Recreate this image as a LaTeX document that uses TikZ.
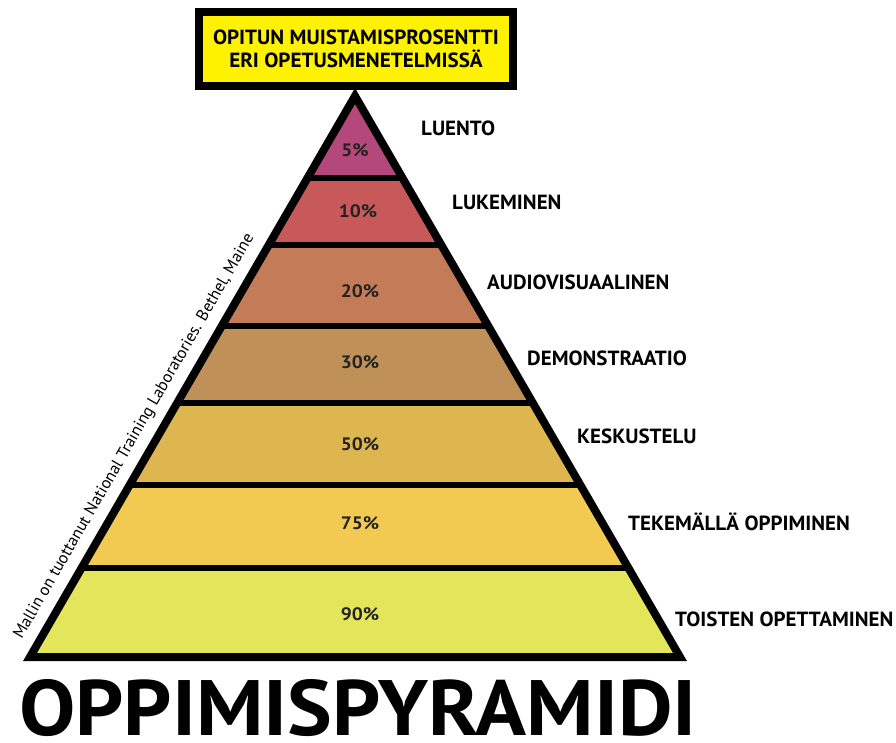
\documentclass[tikz,border=0pt]{standalone}
\usepackage{fontspec}
\setmainfont{PT Sans}
\newfontfamily\labfont[FakeStretch=1.025]{PT Sans}
\newfontfamily\bigfont[FakeStretch=1.074]{PT Sans}
\newfontfamily\pctfont[FakeStretch=1.08]{PT Sans}
\newfontfamily\boxfont[FakeStretch=1.03]{PT Sans}
\definecolor{c5}{HTML}{B4487B}
\definecolor{c10}{HTML}{C8595B}
\definecolor{c20}{HTML}{C47B58}
\definecolor{c30}{HTML}{BF9158}
\definecolor{c50}{HTML}{DDB650}
\definecolor{c75}{HTML}{F2CA52}
\definecolor{c90}{HTML}{E3E65A}
\definecolor{boxyellow}{HTML}{FFF200}
\definecolor{pctgray}{HTML}{222222}
\begin{document}
\begin{tikzpicture}[x=1pt,y=-1pt,
  pct/.style={font=\pctfont\fontsize{18}{18}\selectfont\bfseries, text=pctgray, inner sep=0},
  lbl/.style={font=\labfont\fontsize{20.5}{20.5}\selectfont\bfseries, anchor=west, inner sep=0},
  sep/.style={line width=6.5pt}]
\useasboundingbox (0,0) rectangle (896,742);
\coordinate (apex) at (355,96);
\coordinate (bl) at (30,657);
\coordinate (br) at (680,657);
\begin{scope}
  \clip (apex) -- (bl) -- (br) -- cycle;
  \fill[c5]  (0,0)   rectangle (896,178);
  \fill[c10] (0,178) rectangle (896,245);
  \fill[c20] (0,245) rectangle (896,326);
  \fill[c30] (0,326) rectangle (896,403);
  \fill[c50] (0,403) rectangle (896,485);
  \fill[c75] (0,485) rectangle (896,568);
  \fill[c90] (0,568) rectangle (896,660);
  \foreach \y in {178,245,326,403,485,568} \draw[sep] (0,\y) -- (896,\y);
\end{scope}
\draw[line width=8pt, line join=miter] (apex) -- (bl) -- (br) -- cycle;

\node[draw, line width=8pt, fill=boxyellow, minimum width=314pt, minimum height=74pt,
  align=center, font=\boxfont\fontsize{20.5}{23.5}\selectfont\bfseries, inner sep=0] (title) at (356,49)
  {OPITUN MUISTAMISPROSENTTI\\ERI OPETUSMENETELMISSÄ};

\node[pct] (p5)  at (355,150) {5\%};
\node[pct] (p10) at (358,211) {10\%};
\node[pct] (p20) at (360,291) {20\%};
\node[pct] (p30) at (360,362) {30\%};
\node[pct] (p50) at (360,444) {50\%};
\node[pct] (p75) at (360,523) {75\%};
\node[pct] (p90) at (360,614) {90\%};

\node[lbl] (l1) at (421,128) {LUENTO};
\node[lbl] (l2) at (452,202) {LUKEMINEN};
\node[lbl] (l3) at (487,282) {AUDIOVISUAALINEN};
\node[lbl] (l4) at (527,358) {DEMONSTRAATIO};
\node[lbl] (l5) at (577,436) {KESKUSTELU};
\node[lbl] (l6) at (628,522) {TEKEMÄLLÄ OPPIMINEN};
\node[lbl] (l7) at (675,619) {TOISTEN OPETTAMINEN};

\node[rotate=60, anchor=south, inner sep=1pt, font=\fontsize{16.6}{16.6}\selectfont] (src) at (142,441)
  {Mallin on tuottanut National Training Laboratories. Bethel, Maine};

\node[anchor=base west, inner sep=0, font=\bigfont\fontsize{78.5}{78.5}\selectfont\bfseries] (big) at (19,735)
  {OPPIMISPYRAMIDI};
\end{tikzpicture}
\end{document}
